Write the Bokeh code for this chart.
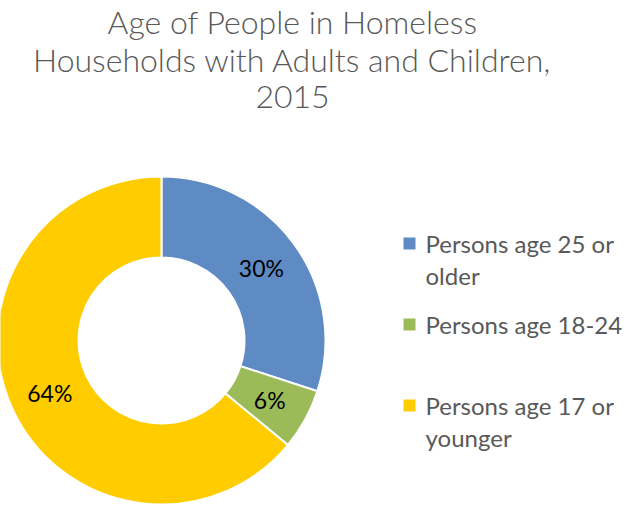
import math
from bokeh.plotting import figure
from bokeh.models import Range1d, ColumnDataSource
from bokeh.core.properties import value
from bokeh.embed import file_html
from bokeh.resources import INLINE

# ---- data ----
categories = ["Persons age 25 or\nolder", "Persons age 18-24", "Persons age 17 or\nyounger"]
values = [30, 6, 64]
labels = ["30%", "6%", "64%"]
colors = ["#5E8BC4", "#9BBB59", "#FFCC00"]
title_lines = ["Age of People in Homeless", "Households with Adults and Children,", "2015"]

# ---- layout (screen px; data y = H - screen y) ----
W, H = 629, 506
FW, FH = 629, 506
def sy(y):
    return H - y

p = figure(width=FW, height=FH, output_backend="svg", toolbar_location=None,
           x_range=Range1d(0, FW), y_range=Range1d(sy(FH), sy(0)),
           min_border=0, outline_line_color=None)
p.axis.visible = False
p.xgrid.visible = False
p.ygrid.visible = False
p.background_fill_color = "white"
p.border_fill_color = "white"

# title
for i, t in enumerate(title_lines):
    p.text(x=[292], y=[sy(21 + i * 37.5)], text=[t], text_align="center",
           text_baseline="middle", text_font=value("Lato Light, Lato"),
           text_font_size="32px", text_color="#595959")

# donut
cx, cy = 161, sy(340)
r_in, r_out = 83, 164
total = float(sum(values))
starts, ends, mids = [], [], []
cum = 0.0
for v in values:
    a0 = math.pi / 2 - 2 * math.pi * cum / total
    cum += v
    a1 = math.pi / 2 - 2 * math.pi * cum / total
    starts.append(a0)
    ends.append(a1)
    mids.append((a0 + a1) / 2)

src = ColumnDataSource(dict(start=starts, end=ends, color=colors))
p.annular_wedge(x=cx, y=cy, inner_radius=r_in, outer_radius=r_out,
                start_angle="start", end_angle="end", direction="clock",
                fill_color="color", line_color="white", line_width=2, source=src)

r_lab = (r_in + r_out) / 2
lx = [cx + r_lab * math.cos(m) for m in mids]
ly = [cy + r_lab * math.sin(m) for m in mids]
p.text(x=lx, y=ly, text=labels, text_align="center", text_baseline="middle",
       text_font=value("Lato"), text_font_size="23px", text_color="black")

# legend
leg_y = [243, 324, 405]
for cat, col, y0 in zip(categories, colors, leg_y):
    p.rect(x=[409], y=[sy(y0)], width=12, height=12, fill_color=col, line_color=None)
    for j, line in enumerate(cat.split("\n")):
        p.text(x=[425], y=[sy(y0 + j * 32)], text=[line], text_align="left",
               text_baseline="middle", text_font=value("Lato"),
               text_font_size="24px", text_color="#595959")

open("out.html", "w").write(file_html(p, INLINE))
